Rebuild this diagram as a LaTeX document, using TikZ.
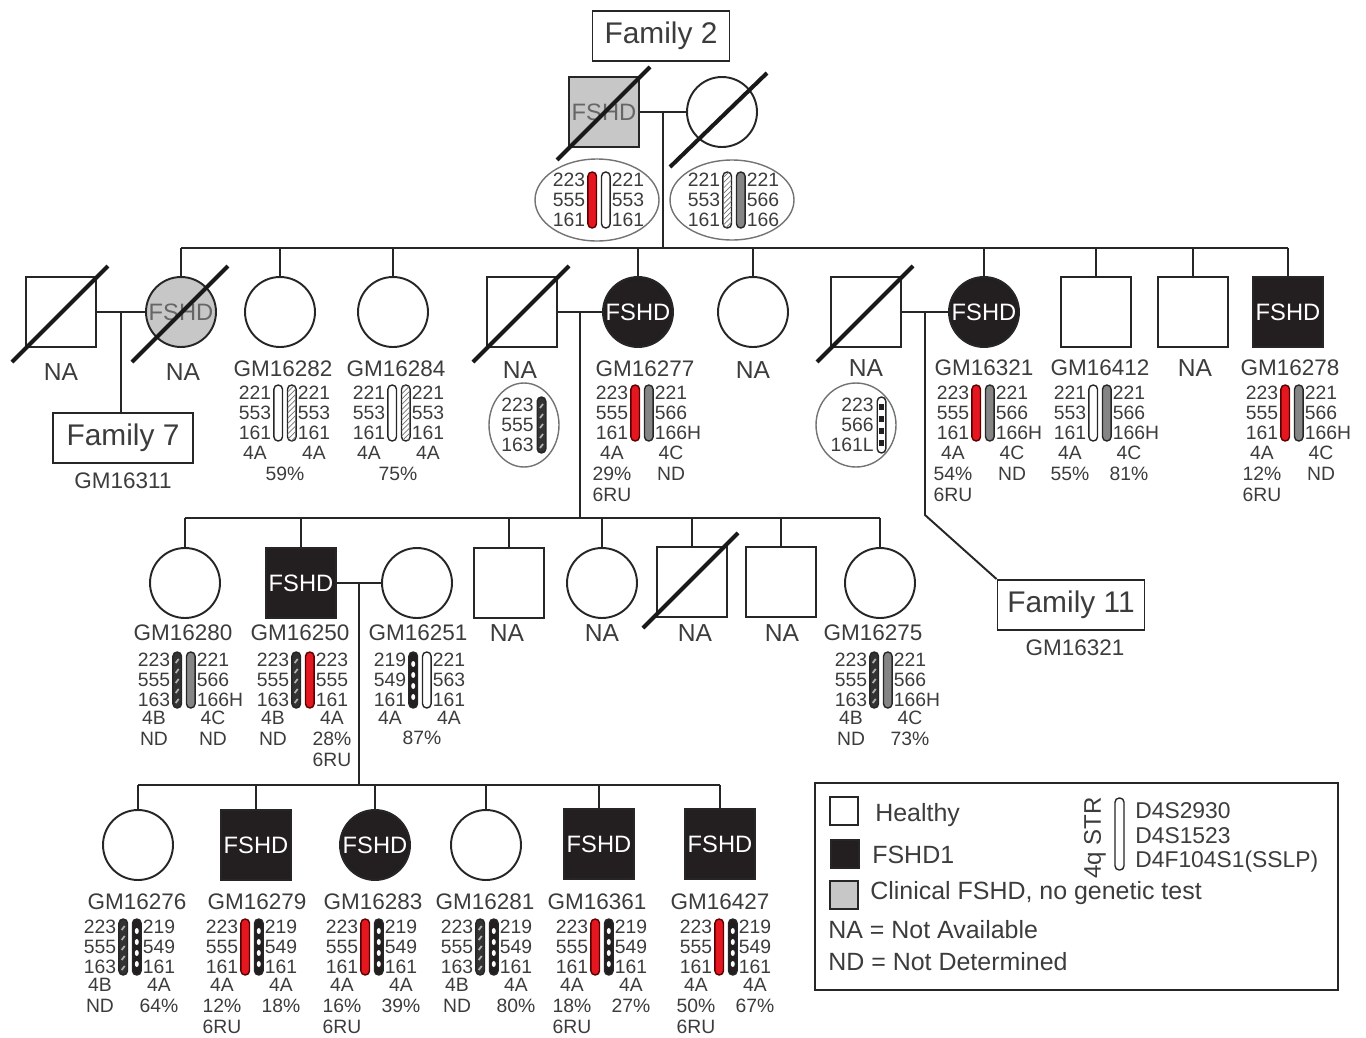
\documentclass[tikz,border=0pt]{standalone}
\usepackage{fontspec}
\setmainfont{Liberation Sans}
\usetikzlibrary{calc,shapes.geometric,patterns}

\definecolor{txt}{RGB}{60,60,60}
\definecolor{blk}{RGB}{35,31,32}
\definecolor{chrred}{RGB}{228,22,32}

\tikzset{
  conn/.style={draw=black!85, line width=1.1pt},
  male/.style={draw=black!85, line width=1.1pt, minimum size=1.4cm, inner sep=0pt,
    font=\fontsize{13.5}{14}\selectfont},
  female/.style={male, circle},
  affected/.style={fill=blk, text=white},
  clinical/.style={fill=black!22, text=black!60},
  dead/.style={line width=2.3pt, black!90},
  lab/.style={font=\fontsize{12.8}{13}\selectfont, text=txt, inner sep=0pt},
  nalab/.style={font=\fontsize{14}{14}\selectfont, text=txt, inner sep=0pt},
  hapnum/.style={font=\fontsize{11}{11.35}\selectfont, text=txt, inner sep=0pt},
  infotxt/.style={font=\fontsize{11}{12}\selectfont, text=txt, inner sep=0pt, align=center},
  famlab/.style={draw=black!85, line width=1.1pt, font=\fontsize{17}{17}\selectfont,
    text=txt, minimum height=1cm, inner sep=0pt},
  hapoval/.style={ellipse, draw=black!55, line width=0.8pt, inner sep=0pt},
  chr/.style={draw=black!85, line width=0.8pt, rounded corners=2.4pt},
  redbar/.style={fill=chrred, draw=red!35!black},
  whitebar/.style={fill=white},
  graybar/.style={fill=black!48},
  hatchbar/.style={fill=white, postaction={pattern=north east lines, pattern color=black!55}},
  legtext/.style={font=\fontsize{14.2}{15}\selectfont, text=txt, inner sep=0pt, anchor=west},
  legsq/.style={draw=black!85, line width=1.1pt, minimum size=0.56cm, inner sep=0pt},
  pics/bar/.style={code={\path[chr, #1] (-4.3,-28) rectangle (4.3,28);}},
  pics/darkbar/.style={code={
    \path[chr, fill=black!80] (-4.3,-28) rectangle (4.3,28);
    \foreach \yy in {-19,-9,1,11,21}
      \draw[black!30, line width=1pt] (-1.5,\yy+2) -- (1.5,\yy-2);}},
  pics/beads/.style={code={
    \path[chr, fill=blk] (-4.3,-28) rectangle (4.3,28);
    \foreach \yy in {-16,-5,6,17}
      \fill[white] (0,\yy) ellipse (2 and 3);}},
  pics/checkbar/.style={code={
    \path[chr, fill=white] (-4.3,-28) rectangle (4.3,28);
    \foreach \yy in {-18,-6,6,18}
      \fill[blk] (-2.5,\yy-3) rectangle (2.5,\yy+3);}}
}

% haplotype: name, centre x, centre y, left bar, right bar, left STR, right STR
\newcommand{\haplo}[7]{%
  \node[hapnum, anchor=east, align=right] (#1l) at (#2-13.5,#3) {#6};
  \node[hapnum, anchor=west, align=left] (#1r) at (#2+12.5,#3) {#7};
  \pic at (#2-6.8,#3) {#4};
  \pic at (#2+6.8,#3) {#5};
}
% 4q type rows under a haplotype: name, centre x, top y, left, right
\newcommand{\haptype}[5]{%
  \node[infotxt, anchor=north] (#1a) at (#2-30,#3) {#4};
  \node[infotxt, anchor=north] (#1b) at (#2+29,#3) {#5};
}

\begin{document}
\begin{tikzpicture}[x=0.02cm, y=-0.02cm]
\useasboundingbox (0,0) rectangle (1366,1038);

% generation I
\node[famlab, minimum width=2.74cm] (fam2) at (661,36) {Family 2};
\node[male, clinical] (f2dad) at (604,112) {FSHD};
\node[female] (f2mom) at (722,112) {};
\draw[dead] ($(f2dad)+(-47,48)$) -- ($(f2dad)+(46,-45)$);
\draw[dead] ($(f2mom)+(-52,55)$) -- ($(f2mom)+(45,-39)$);
\coordinate (m1) at ($(f2dad.east)!0.5!(f2mom.west)$);
\coordinate (s2) at (0,248);
\draw[conn] (f2dad.east) -- (f2mom.west);
\draw[conn] (m1) -- (m1 |- s2);
\node[hapoval, minimum width=2.48cm, minimum height=1.64cm] (ovdad) at (597,200) {};
\haplo{hdad}{599}{200}{bar=redbar}{bar=whitebar}{223\\555\\161}{221\\553\\161}
\node[hapoval, minimum width=2.48cm, minimum height=1.6cm] (ovmom) at (732,200) {};
\haplo{hmom}{734}{200}{bar=hatchbar}{bar=graybar}{221\\553\\161}{221\\566\\166}

% generation II
\node[male] (sp7) at (61,312) {};
\node[female, clinical] (f7mom) at (181,312) {FSHD};
\node[female] (gm16282) at (280,312) {};
\node[female] (gm16284) at (393,312) {};
\node[male] (sp77) at (522,312) {};
\node[female, affected] (gm16277) at (638,312) {FSHD};
\node[female] (na2a) at (753,312) {};
\node[male] (sp21) at (866,312) {};
\node[female, affected] (gm16321) at (984,312) {FSHD};
\node[male] (gm16412) at (1096,312) {};
\node[male] (na2b) at (1193,312) {};
\node[male, affected] (gm16278) at (1288,312) {FSHD};
\foreach \p in {sp7,f7mom,sp77,sp21}
  \draw[dead] ($(\p)+(-49,50)$) -- ($(\p)+(47,-46)$);
\draw[conn] (f7mom.north |- s2) -- (gm16278.north |- s2);
\foreach \c in {f7mom,gm16282,gm16284,gm16277,na2a,gm16321,gm16412,na2b,gm16278}
  \draw[conn] (\c.north) -- (\c.north |- s2);

% couples of generation II
\draw[conn] (sp7.east) -- (f7mom.west);
\coordinate (m7) at ($(sp7.east)!0.5!(f7mom.west)$);
\node[famlab, minimum width=2.8cm] (fam7) at (123,438) {Family 7};
\draw[conn] (m7) -- (m7 |- fam7.north);
\node[lab] (gm16311) at (123,481) {GM16311};
\draw[conn] (sp77.east) -- (gm16277.west);
\coordinate (m3) at ($(sp77.east)!0.5!(gm16277.west)$);
\draw[conn] (sp21.east) -- (gm16321.west);
\coordinate (m11) at ($(sp21.east)!0.5!(gm16321.west)$);
\coordinate (k11) at ($(m11)+(0,203)$);
\node[famlab, minimum width=2.94cm] (fam11) at (1071,605) {Family 11};
\draw[conn] (m11) -- (k11) -- (fam11.north west);
\node[lab] (gm16321b) at (1075,648) {GM16321};

% labels generation II
\node[nalab] (na1) at (61,372) {NA};
\node[nalab] (na2) at (183,372) {NA};
\node[lab] (l82) at (283,369) {GM16282};
\node[lab] (l84) at (396,369) {GM16284};
\node[nalab] (na3) at (520,370) {NA};
\node[lab] (l77) at (645,369) {GM16277};
\node[nalab] (na4) at (753,370) {NA};
\node[nalab] (na5) at (866,368) {NA};
\node[lab] (l21) at (984,368) {GM16321};
\node[lab] (l12) at (1100,368) {GM16412};
\node[nalab] (na6) at (1195,368) {NA};
\node[lab] (l78) at (1290,368) {GM16278};

% haplotypes generation II
\node[hapoval, minimum width=1.4cm, minimum height=1.68cm] (ovsp77) at (524,425) {};
\node[hapnum, anchor=east, align=right] (hsp77) at (534,425) {223\\555\\163};
\pic at (541.5,425) {darkbar};
\node[hapoval, minimum width=1.6cm, minimum height=1.68cm] (ovsp21) at (856,425) {};
\node[hapnum, anchor=east, align=right] (hsp21) at (874,425) {223\\566\\161L};
\pic at (881.5,425) {checkbar};
\haplo{h82}{285}{413}{bar=whitebar}{bar=hatchbar}{221\\553\\161}{221\\553\\161}
\haptype{t82}{285}{446}{4A}{4A}
\node[infotxt] (p82) at (285,474) {59\%};
\haplo{h84}{399}{413}{bar=whitebar}{bar=hatchbar}{221\\553\\161}{221\\553\\161}
\haptype{t84}{399}{446}{4A}{4A}
\node[infotxt] (p84) at (398,474) {75\%};
\haplo{h77}{642}{413}{bar=redbar}{bar=graybar}{223\\555\\161}{221\\566\\166H}
\haptype{t77}{642}{446}{4A\\29\%\\6RU}{4C\\ND}
\haplo{h21}{983}{413}{bar=redbar}{bar=graybar}{223\\555\\161}{221\\566\\166H}
\haptype{t21}{983}{446}{4A\\54\%\\6RU}{4C\\ND}
\haplo{h12}{1100}{413}{bar=whitebar}{bar=graybar}{221\\553\\161}{221\\566\\166H}
\haptype{t12}{1100}{446}{4A\\55\%}{4C\\81\%}
\haplo{h78}{1292}{413}{bar=redbar}{bar=graybar}{223\\555\\161}{221\\566\\166H}
\haptype{t78}{1292}{446}{4A\\12\%\\6RU}{4C\\ND}

% generation III
\coordinate (s3) at (0,518);
\draw[conn] (m3) -- (m3 |- s3);
\node[female] (gm16280) at (185,583) {};
\node[male, affected] (gm16250) at (301,583) {FSHD};
\node[female] (gm16251) at (417,583) {};
\node[male] (na3a) at (509,583) {};
\node[female] (na3b) at (602,583) {};
\node[male] (na3c) at (692,582) {};
\node[male] (na3d) at (781,582) {};
\node[female] (gm16275) at (880,583) {};
\draw[dead] ($(na3c)+(-49,46)$) -- ($(na3c)+(46,-49)$);
\draw[conn] (gm16280.north |- s3) -- (gm16275.north |- s3);
\foreach \c in {gm16280,gm16250,na3a,na3b,na3c,na3d,gm16275}
  \draw[conn] (\c.north) -- (\c.north |- s3);
\draw[conn] (gm16250.east) -- (gm16251.west);
\coordinate (m4) at ($(gm16250.east)!0.5!(gm16251.west)$);

% labels generation III
\node[lab] (l80) at (183,633) {GM16280};
\node[lab] (l50) at (300,633) {GM16250};
\node[lab] (l51) at (418,633) {GM16251};
\node[nalab] (na7) at (507,633) {NA};
\node[nalab] (na8) at (602,633) {NA};
\node[nalab] (na9) at (695,633) {NA};
\node[nalab] (na10) at (782,633) {NA};
\node[lab] (l75) at (873,633) {GM16275};

% haplotypes generation III
\haplo{h80}{184}{680}{darkbar}{bar=graybar}{223\\555\\163}{221\\566\\166H}
\haptype{t80}{184}{711}{4B\\ND}{4C\\ND}
\haplo{h50}{303}{680}{darkbar}{bar=redbar}{223\\555\\163}{223\\555\\161}
\haptype{t50}{303}{711}{4B\\ND}{4A\\28\%\\6RU}
\haplo{h51}{420}{680}{beads}{bar=whitebar}{219\\549\\161}{221\\563\\161}
\haptype{t51}{420}{711}{4A}{4A}
\node[infotxt] (p51) at (422,738) {87\%};
\haplo{h75}{881}{680}{darkbar}{bar=graybar}{223\\555\\163}{221\\566\\166H}
\haptype{t75}{881}{711}{4B\\ND}{4C\\73\%}

% generation IV
\coordinate (s4) at (0,785);
\draw[conn] (m4) -- (m4 |- s4);
\node[female] (gm16276) at (138,845) {};
\node[male, affected] (gm16279) at (256,845) {FSHD};
\node[female, affected] (gm16283) at (375,845) {FSHD};
\node[female] (gm16281) at (486,845) {};
\node[male, affected] (gm16361) at (599,844) {FSHD};
\node[male, affected] (gm16427) at (720,844) {FSHD};
\draw[conn] (gm16276.north |- s4) -- (gm16427.north |- s4);
\foreach \c in {gm16276,gm16279,gm16283,gm16281,gm16361,gm16427}
  \draw[conn] (\c.north) -- (\c.north |- s4);

% labels generation IV
\node[lab] (l76) at (137,902) {GM16276};
\node[lab] (l79) at (257,902) {GM16279};
\node[lab] (l83) at (373,902) {GM16283};
\node[lab] (l81) at (485,902) {GM16281};
\node[lab] (l61) at (597,902) {GM16361};
\node[lab] (l27) at (720,902) {GM16427};

% haplotypes generation IV
\haplo{h76}{130}{947}{darkbar}{beads}{223\\555\\163}{219\\549\\161}
\haptype{t76}{130}{978}{4B\\ND}{4A\\64\%}
\haplo{h79}{252}{947}{bar=redbar}{beads}{223\\555\\161}{219\\549\\161}
\haptype{t79}{252}{978}{4A\\12\%\\6RU}{4A\\18\%}
\haplo{h83}{372}{947}{bar=redbar}{beads}{223\\555\\161}{219\\549\\161}
\haptype{t83}{372}{978}{4A\\16\%\\6RU}{4A\\39\%}
\haplo{h81}{487}{947}{darkbar}{beads}{223\\555\\163}{219\\549\\161}
\haptype{t81}{487}{978}{4B\\ND}{4A\\80\%}
\haplo{h61}{602}{947}{bar=redbar}{beads}{223\\555\\161}{219\\549\\161}
\haptype{t61}{602}{978}{4A\\18\%\\6RU}{4A\\27\%}
\haplo{h27}{726}{947}{bar=redbar}{beads}{223\\555\\161}{219\\549\\161}
\haptype{t27}{726}{978}{4A\\50\%\\6RU}{4A\\67\%}

% legend
\draw[line width=1.1pt, black!85] (815,783) rectangle (1338,990);
\node[legsq] (lsq1) at (844,811) {};
\node[legtext] (lt1) at (875,815) {Healthy};
\node[legsq, fill=blk] (lsq2) at (845,854) {};
\node[legtext] (lt2) at (872,855) {FSHD1};
\node[legsq, fill=black!22] (lsq3) at (844,895) {};
\node[legtext] (lt3) at (870,893) {Clinical FSHD, no genetic test};
\node[legtext] (lt4) at (828,930) {NA = Not Available};
\node[legtext] (lt5) at (828,962) {ND = Not Determined};
\node[font=\fontsize{13.7}{14}\selectfont, text=txt, rotate=90, inner sep=0pt] (l4q) at (1095,838) {4q STR};
\path[chr, fill=white] (1115,798) rectangle (1124,870);
\node[legtext, font=\fontsize{13}{13}\selectfont] (ld1) at (1135,811) {D4S2930};
\node[legtext, font=\fontsize{13}{13}\selectfont] (ld2) at (1135,836) {D4S1523};
\node[legtext, font=\fontsize{13}{13}\selectfont] (ld3) at (1135,862) {D4F104S1(SSLP)};
\end{tikzpicture}
\end{document}
